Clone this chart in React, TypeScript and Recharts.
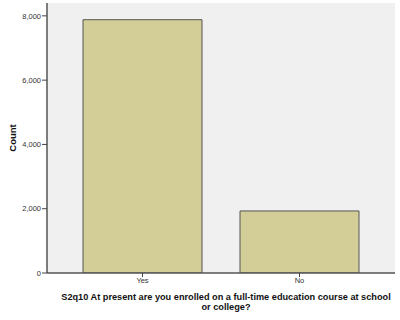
import React from "react";
import { BarChart, Bar, XAxis, YAxis, CartesianGrid } from "recharts";

const categories = ["Yes", "No"];
const counts = [7880, 1930];
const yTicks = [0, 2000, 4000, 6000, 8000];
const xTitle1 = "S2q10 At present are you enrolled on a full-time education course at school";
const xTitle2 = "or college?";
const yTitle = "Count";

const data = categories.map((c, i) => ({ name: c, value: counts[i] }));

const FONT = "'Liberation Sans', Arial, sans-serif";

const XTitle = (props: any) => {
  const vb = props.viewBox || {};
  const cx = vb.x + vb.width / 2 + 5;
  return (
    <text textAnchor="middle" fontFamily={FONT} fontWeight="bold" fontSize={9.2} fill="#111">
      <tspan x={cx} y={300}>{xTitle1}</tspan>
      <tspan x={cx} y={310}>{xTitle2}</tspan>
    </text>
  );
};

export default function App() {
  return (
    <div style={{ position: "absolute", left: 0, top: 0, width: 400, height: 320, background: "#fff" }}>
      <BarChart
        width={400}
        height={320}
        data={data}
        margin={{ top: 3, right: 5, left: 0, bottom: 0 }}
        barSize={119}
      >
        <CartesianGrid horizontal={false} vertical={false} fill="#f0f0f0" />
        <XAxis
          dataKey="name"
          height={47}
          padding={{ left: 17, right: 17 }}
          axisLine={{ stroke: "#555", strokeWidth: 1.5 }}
          tickLine={{ stroke: "#444" }}
          tickSize={4}
          tick={{ fontSize: 7.5, fill: "#333", fontFamily: FONT }}
          tickMargin={1}
          label={<XTitle />}
        />
        <XAxis xAxisId="top" orientation="top" dataKey="name" height={0} tick={false} tickLine={false} axisLine={{ stroke: "#888", strokeWidth: 1.5 }} />
        <YAxis
          width={47}
          domain={[0, 8400]}
          ticks={yTicks}
          allowDataOverflow
          tickFormatter={(v: number) => v.toLocaleString("en-US")}
          axisLine={{ stroke: "#555", strokeWidth: 1.5 }}
          tickLine={{ stroke: "#444" }}
          tickSize={5}
          tick={{ fontSize: 7.5, fill: "#333", fontFamily: FONT }}
          tickMargin={1}
          label={{ value: yTitle, angle: -90, position: "insideLeft", offset: 13, style: { fontFamily: FONT, fontWeight: "bold", fontSize: 9.5, fill: "#111", textAnchor: "middle" } }}
        />
        <YAxis yAxisId="right" orientation="right" width={0} tick={false} tickLine={false} axisLine={{ stroke: "#888", strokeWidth: 1.5 }} />
        <Bar dataKey="value" fill="#d3ce97" stroke="#555" strokeWidth={1} isAnimationActive={false} />
      </BarChart>
    </div>
  );
}
